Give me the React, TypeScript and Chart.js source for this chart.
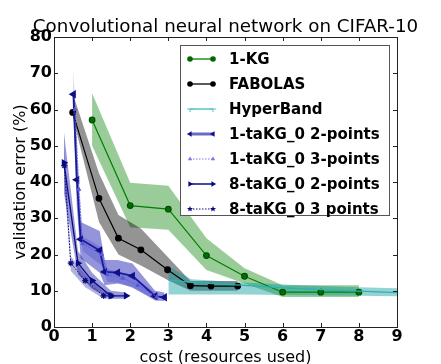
import React, { useEffect, useRef } from "react";
import { Chart, registerables } from "chart.js";
Chart.register(...registerables);

const titleText = "Convolutional neural network on CIFAR-10";
const xAxisTitle = "cost (resources used)";
const yAxisTitle = "validation error (%)";
const xMin = 0, xMax = 9, xStep = 1;
const yMin = 0, yMax = 80, yStep = 10;

// 1-KG
const kgX = [1, 2, 3, 4, 5, 6, 7, 8];
const kgY = [57.1, 33.5, 32.5, 19.7, 14.0, 9.6, 9.6, 9.6];
const kgUpper = [64.5, 39.8, 39.0, 24.5, 16.2, 11.5, 11.5, 11.5];
const kgLower = [50.0, 27.5, 26.8, 15.7, 12.0, 8.3, 8.3, 8.3];

// FABOLAS
const fabX = [0.49, 1.18, 1.69, 2.28, 2.98, 3.58, 4.12, 4.82];
const fabY = [59.2, 35.5, 24.5, 21.3, 15.8, 11.4, 11.3, 11.3];
const fabUpper = [64.5, 42.4, 30.9, 27.2, 19.4, 12.7, 12.7, 12.7];
const fabLower = [58.0, 29.0, 20.0, 17.0, 13.0, 10.0, 10.0, 10.0];

// HyperBand
const hbX = [3, 3.6, 5, 6, 7, 8, 9];
const hbY = [13.0, 12.3, 11.5, 10.8, 10.3, 9.9, 9.5];
const hbUpper = [16.8, 13.2, 12.3, 11.7, 11.3, 11.0, 10.7];
const hbLower = [9.0, 9.0, 9.0, 8.8, 8.7, 8.6, 8.5];

// 1-taKG_0 2-points
const a2X = [0.51, 0.6, 0.7, 1.2, 1.33, 1.67, 2.06, 2.65, 2.9];
const a2Y = [64.2, 40.6, 24.2, 21.1, 15.2, 15.0, 14.1, 8.5, 8.2];
const a2Upper = [71.0, 48.0, 29.0, 26.5, 18.5, 18.5, 17.5, 10.0, 9.5];
const a2Lower = [57.0, 33.0, 19.0, 15.0, 11.5, 12.0, 11.0, 7.3, 7.2];

// 1-taKG_0 3-points
const a3X = [0.55, 0.65, 0.75, 1.25, 1.4, 1.8, 2.2, 2.7];
const a3Y = [60.0, 38.0, 23.0, 20.0, 14.5, 13.5, 11.5, 8.3];
const a3Upper = [62.0, 42.0, 25.0, 22.0, 16.0, 15.0, 13.0, 9.2];
const a3Lower = [58.0, 34.0, 21.0, 17.0, 12.5, 12.0, 10.0, 7.5];

// 8-taKG_0 2-points
const b2X = [0.26, 0.63, 1.0, 1.49, 1.89];
const b2Y = [45.3, 17.6, 12.8, 8.6, 8.6];
const b2Upper = [53.9, 21.0, 15.0, 10.0, 9.5];
const b2Lower = [37.0, 14.5, 10.5, 7.8, 7.8];

// 8-taKG_0 3 points
const b3X = [0.27, 0.44, 0.82, 1.3, 1.5];
const b3Y = [44.5, 17.6, 12.8, 8.6, 8.6];
const b3Upper = [50.0, 19.5, 14.5, 9.8, 9.5];
const b3Lower = [40.0, 15.5, 11.0, 7.8, 7.8];

const seriesLabels = [
  "1-KG",
  "FABOLAS",
  "HyperBand",
  "1-taKG_0 2-points",
  "1-taKG_0 3-points",
  "8-taKG_0 2-points",
  "8-taKG_0 3 points",
];

const FONT = "'DejaVu Sans', sans-serif";

const pts = (xs: number[], ys: number[]) => xs.map((x, i) => ({ x, y: ys[i] }));

function band(xs: number[], up: number[], lo: number[], color: string) {
  return [
    {
      data: pts(xs, up),
      borderWidth: 0,
      borderColor: "rgba(0,0,0,0)",
      pointRadius: 0,
      fill: false,
      tension: 0,
    },
    {
      data: pts(xs, lo),
      borderWidth: 0,
      borderColor: "rgba(0,0,0,0)",
      pointRadius: 0,
      fill: "-1",
      backgroundColor: color,
      tension: 0,
    },
  ];
}

type Marker = "circle" | "left" | "right" | "up" | "star" | "tick";

function drawMarker(ctx: CanvasRenderingContext2D, m: Marker, x: number, y: number, r: number, color: string) {
  ctx.save();
  ctx.fillStyle = color;
  ctx.strokeStyle = color;
  ctx.lineWidth = 1;
  ctx.setLineDash([]);
  ctx.beginPath();
  if (m === "circle") {
    ctx.arc(x, y, r, 0, Math.PI * 2);
    ctx.fill();
  } else if (m === "left" || m === "right" || m === "up") {
    const rot = m === "left" ? -Math.PI / 2 : m === "right" ? Math.PI / 2 : 0;
    for (let k = 0; k < 3; k++) {
      const a = rot + (k * 2 * Math.PI) / 3;
      const px = x + Math.sin(a) * r;
      const py = y - Math.cos(a) * r;
      if (k === 0) ctx.moveTo(px, py);
      else ctx.lineTo(px, py);
    }
    ctx.closePath();
    ctx.fill();
  } else if (m === "star") {
    for (let k = 0; k < 10; k++) {
      const a = (k * Math.PI) / 5;
      const rr = k % 2 === 0 ? r : r * 0.42;
      const px = x + Math.sin(a) * rr;
      const py = y - Math.cos(a) * rr;
      if (k === 0) ctx.moveTo(px, py);
      else ctx.lineTo(px, py);
    }
    ctx.closePath();
    ctx.fill();
  } else if (m === "tick") {
    ctx.moveTo(x - r, y);
    ctx.lineTo(x + r, y);
    ctx.moveTo(x, y);
    ctx.lineTo(x, y + r);
    ctx.stroke();
  }
  ctx.restore();
}

const legendStyles: { color: string; width: number; dash: number[]; marker: Marker; mcolor: string; mr: number }[] = [
  { color: "#008000", width: 1.3, dash: [], marker: "circle", mcolor: "#006600", mr: 2.8 },
  { color: "#000000", width: 1.3, dash: [], marker: "circle", mcolor: "#000000", mr: 2.8 },
  { color: "#55c4c4", width: 1.5, dash: [], marker: "tick", mcolor: "#55c4c4", mr: 3 },
  { color: "#6a6ac8", width: 3, dash: [], marker: "left", mcolor: "#10108a", mr: 3.2 },
  { color: "#7a7ae8", width: 1, dash: [1.5, 1.5], marker: "up", mcolor: "#7a7ae8", mr: 2.6 },
  { color: "#0a0a80", width: 1.5, dash: [], marker: "right", mcolor: "#0a0a80", mr: 3.2 },
  { color: "#0a0a80", width: 1, dash: [1.5, 1.5], marker: "star", mcolor: "#0a0a80", mr: 3.2 },
];

const decorPlugin = {
  id: "decor",
  afterDraw(chart: any) {
    const ctx: CanvasRenderingContext2D = chart.ctx;
    const { left, right, top, bottom } = chart.chartArea;
    const xs = chart.scales.x;
    const ys = chart.scales.y;
    ctx.save();
    // frame
    ctx.strokeStyle = "#222";
    ctx.lineWidth = 1;
    ctx.setLineDash([]);
    ctx.strokeRect(Math.round(left) + 0.5, Math.round(top) + 0.5, Math.round(right - left), Math.round(bottom - top));
    // inner ticks
    const tl = 4;
    ctx.beginPath();
    for (let v = xMin; v <= xMax; v += xStep) {
      const px = Math.round(xs.getPixelForValue(v)) + 0.5;
      ctx.moveTo(px, bottom);
      ctx.lineTo(px, bottom - tl);
      ctx.moveTo(px, top);
      ctx.lineTo(px, top + tl);
    }
    for (let v = yMin; v <= yMax; v += yStep) {
      const py = Math.round(ys.getPixelForValue(v)) + 0.5;
      ctx.moveTo(left, py);
      ctx.lineTo(left + tl, py);
      ctx.moveTo(right, py);
      ctx.lineTo(right - tl, py);
    }
    ctx.stroke();

    // title
    ctx.fillStyle = "#000";
    ctx.font = `18.3px ${FONT}`;
    ctx.textAlign = "center";
    ctx.textBaseline = "alphabetic";
    ctx.fillText(titleText, (left + right) / 2, 32);

    // x title
    ctx.font = `16px ${FONT}`;
    ctx.fillText(xAxisTitle, (left + right) / 2, 362);

    // y title
    ctx.save();
    ctx.translate(25, (top + bottom) / 2);
    ctx.rotate(-Math.PI / 2);
    ctx.fillText(yAxisTitle, 0, 0);
    ctx.restore();

    // legend
    const lx = 180, ly = 45, lw = 209, lh = 170;
    ctx.fillStyle = "#fff";
    ctx.fillRect(lx, ly, lw, lh);
    ctx.strokeStyle = "#555";
    ctx.lineWidth = 1;
    ctx.strokeRect(lx + 0.5, ly + 0.5, lw, lh);
    ctx.font = `bold 15px ${FONT}`;
    ctx.textAlign = "left";
    ctx.textBaseline = "middle";
    for (let i = 0; i < seriesLabels.length; i++) {
      const st = legendStyles[i];
      const cy = 59 + i * 25;
      ctx.strokeStyle = st.color;
      ctx.lineWidth = st.width;
      ctx.setLineDash(st.dash);
      ctx.beginPath();
      ctx.moveTo(190, cy);
      ctx.lineTo(213, cy);
      ctx.stroke();
      ctx.setLineDash([]);
      drawMarker(ctx, st.marker, 190, cy, st.mr, st.mcolor);
      drawMarker(ctx, st.marker, 213, cy, st.mr, st.mcolor);
      ctx.fillStyle = "#000";
      ctx.fillText(seriesLabels[i], 229, cy + 1);
    }
    ctx.restore();
  },
};

export default function App() {
  const ref = useRef<HTMLCanvasElement | null>(null);
  useEffect(() => {
    const canvas = ref.current;
    if (!canvas) return;
    const lineBase = { fill: false, tension: 0, showLine: true };
    const datasets: any[] = [
      {
        ...lineBase,
        label: seriesLabels[6],
        data: pts(b3X, b3Y),
        borderColor: "#0a0a80",
        borderWidth: 1,
        borderDash: [1.5, 1.5],
        pointStyle: "star",
        pointRadius: 3,
        pointBorderColor: "#0a0a80",
        pointBackgroundColor: "#0a0a80",
        pointBorderWidth: 1.2,
      },
      {
        ...lineBase,
        label: seriesLabels[5],
        data: pts(b2X, b2Y),
        borderColor: "#0a0a80",
        borderWidth: 1.3,
        pointStyle: "triangle",
        pointRotation: 90,
        pointRadius: 3,
        pointBorderColor: "#0a0a80",
        pointBackgroundColor: "#0a0a80",
      },
      {
        ...lineBase,
        label: seriesLabels[4],
        data: pts(a3X, a3Y),
        borderColor: "#5a5ad8",
        borderWidth: 1,
        borderDash: [1.5, 1.5],
        pointStyle: "triangle",
        pointRadius: 2.2,
        pointBorderColor: "#5a5ad8",
        pointBackgroundColor: "#5a5ad8",
      },
      {
        ...lineBase,
        label: seriesLabels[3],
        data: pts(a2X, a2Y),
        borderColor: "#1a1aa0",
        borderWidth: 1.8,
        pointStyle: "triangle",
        pointRotation: -90,
        pointRadius: 3,
        pointBorderColor: "#10108a",
        pointBackgroundColor: "#10108a",
      },
      {
        ...lineBase,
        label: seriesLabels[2],
        data: pts(hbX, hbY),
        borderColor: "#30b0b0",
        borderWidth: 1.2,
        pointRadius: 0,
      },
      {
        ...lineBase,
        label: seriesLabels[1],
        data: pts(fabX, fabY),
        borderColor: "#000",
        borderWidth: 1.2,
        pointStyle: "circle",
        pointRadius: 2.8,
        pointBorderColor: "#000",
        pointBackgroundColor: "#000",
      },
      {
        ...lineBase,
        label: seriesLabels[0],
        data: pts(kgX, kgY),
        borderColor: "#008000",
        borderWidth: 1.2,
        pointStyle: "circle",
        pointRadius: 2.8,
        pointBorderColor: "#004d00",
        pointBackgroundColor: "#007000",
      },
      ...band(b3X, b3Upper, b3Lower, "rgba(0,0,140,0.3)"),
      ...band(b2X, b2Upper, b2Lower, "rgba(0,0,160,0.4)"),
      ...band(a3X, a3Upper, a3Lower, "rgba(40,40,200,0.25)"),
      ...band(a2X, a2Upper, a2Lower, "rgba(0,0,170,0.42)"),
      ...band(hbX, hbUpper, hbLower, "rgba(0,150,150,0.42)"),
      ...band(fabX, fabUpper, fabLower, "rgba(0,0,0,0.42)"),
      ...band(kgX, kgUpper, kgLower, "rgba(0,128,0,0.4)"),
    ];

    const chart = new Chart(canvas, {
      type: "line",
      data: { datasets },
      plugins: [decorPlugin],
      options: {
        responsive: false,
        animation: false,
        devicePixelRatio: 1,
        layout: { padding: { top: 37, right: 44, left: 0, bottom: 0 } },
        plugins: {
          legend: { display: false },
          tooltip: { enabled: false },
          title: { display: false },
          filler: { drawTime: "beforeDatasetsDraw" },
        } as any,
        scales: {
          x: {
            type: "linear",
            min: xMin,
            max: xMax,
            grid: { display: true, drawOnChartArea: false, drawTicks: false },
            border: { display: false },
            ticks: {
              stepSize: xStep,
              autoSkip: false,
              maxRotation: 0,
              padding: 0,
              color: "#000",
              font: { family: FONT, size: 16, weight: "bold" },
            },
            afterFit: (s: any) => {
              s.height = 37;
            },
          },
          y: {
            type: "linear",
            min: yMin,
            max: yMax,
            grid: { display: true, drawOnChartArea: false, drawTicks: false },
            border: { display: false },
            ticks: {
              stepSize: yStep,
              padding: 2,
              color: "#000",
              font: { family: FONT, size: 16, weight: "bold" },
            },
            afterFit: (s: any) => {
              s.width = 54;
            },
          },
        },
      } as any,
    });
    return () => chart.destroy();
  }, []);

  return (
    <div style={{ position: "fixed", left: 0, top: 0, width: 441, height: 364, background: "#fff" }}>
      <canvas ref={ref} width={441} height={364} style={{ display: "block" }} />
    </div>
  );
}
